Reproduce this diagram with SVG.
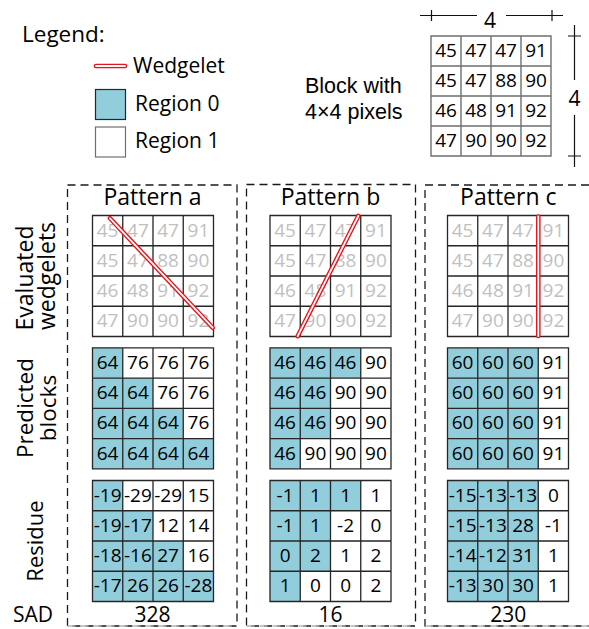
<svg xmlns="http://www.w3.org/2000/svg" xmlns:xlink="http://www.w3.org/1999/xlink" width="589" height="629" viewBox="0 0 589 629">
  <style>
    text { font-family: "Open Sans", "Liberation Sans", sans-serif; fill: #000; }
    .num { font-size: 19px; text-anchor: middle; }
    .dim { font-size: 21px; text-anchor: middle; }
    .ghost text { fill: #BFBFBF; }
    .title { font-size: 23px; text-anchor: middle; }
    .lab { font-size: 21px; }
    .lab-tight { font-family: "Liberation Sans", sans-serif; font-size: 21.5px; }
    .side { font-size: 23px; text-anchor: middle; }
    .grid { fill: none; stroke: #262626; stroke-width: 1.3; }
    .grid-soft { fill: none; stroke: #6f6f6f; stroke-width: 1.4; }
    .r0 { fill: #92CDDC; }
    .frame { fill: none; stroke: #1a1a1a; stroke-width: 1.3; stroke-dasharray: 8 5; }
    .frame-bottom { fill: none; stroke: #b5b5b5; stroke-width: 1.3; stroke-dasharray: 8 5; }
    .wedge-out { stroke: #E8141B; stroke-width: 4.6; stroke-linecap: round; fill: none; }
    .wedge-in { stroke: #fff; stroke-width: 1.8; stroke-linecap: round; fill: none; }
    .dimline { stroke: #111; stroke-width: 1.2; fill: none; }
  </style>
  <defs>
    <!-- 4x4 grid, 30.25 px cells -->
    <path id="grid" d="M0,0H121V121H0Z M30.25,0V121 M60.5,0V121 M90.75,0V121 M0,30.25H121 M0,60.5H121 M0,90.75H121"/>
    <!-- region-0 outlines per wedgelet pattern -->
    <polygon id="reg-a" points="0,0 30.25,0 30.25,30.25 60.5,30.25 60.5,60.5 90.75,60.5 90.75,90.75 121,90.75 121,121 0,121"/>
    <polygon id="reg-b" points="0,0 90.75,0 90.75,30.25 60.5,30.25 60.5,90.75 30.25,90.75 30.25,121 0,121"/>
    <rect id="reg-c" x="0" y="0" width="90.75" height="121"/>
  </defs>

  <rect width="589" height="629" fill="#fff"/>

  <!-- Legend -->
  <g id="legend">
    <text x="22" y="42.3" style="font-size:22.5px">Legend:</text>
    <line class="wedge-out" x1="96" y1="66" x2="125" y2="66"/>
    <line class="wedge-in" x1="96" y1="66" x2="125" y2="66"/>
    <text class="lab" x="133" y="72.7">Wedgelet</text>
    <rect class="r0" x="95.5" y="89.5" width="30" height="30" stroke="#262626" stroke-width="1.2"/>
    <text class="lab" x="135" y="110.5">Region 0</text>
    <rect x="95.5" y="127" width="30" height="30" fill="#fff" stroke="#707070" stroke-width="1.2"/>
    <text class="lab" x="135" y="148">Region 1</text>
  </g>

  <!-- Source block with dimensions -->
  <g id="block">
    <text class="lab-tight" x="305" y="93">Block with</text>
    <text class="lab-tight" x="305" y="118.5">4×4 pixels</text>
    <path class="grid-soft" d="M431,36H551V156H431Z M461,36V156 M491,36V156 M521,36V156 M431,66H551 M431,96H551 M431,126H551"/>
    <g class="num">
      <text x="446" y="56.5">45</text><text x="476" y="56.5">47</text><text x="506" y="56.5">47</text><text x="536" y="56.5">91</text>
      <text x="446" y="86.5">45</text><text x="476" y="86.5">47</text><text x="506" y="86.5">88</text><text x="536" y="86.5">90</text>
      <text x="446" y="116.5">46</text><text x="476" y="116.5">48</text><text x="506" y="116.5">91</text><text x="536" y="116.5">92</text>
      <text x="446" y="146.5">47</text><text x="476" y="146.5">90</text><text x="506" y="146.5">90</text><text x="536" y="146.5">92</text>
    </g>
  </g>

  <g id="dimensions">
    <path class="dimline" d="M420,15.5H477 M506,15.5H563 M431.5,10V21 M552,10V21"/>
    <text class="dim" x="490" y="28.3">4</text>
    <path class="dimline" d="M574.5,25V80 M574.5,115V167 M568,36H581 M568,156H581"/>
    <text class="dim" x="574.5" y="105.5">4</text>
  </g>

  <!-- Row captions -->
  <g id="captions">
    <text class="side" transform="translate(32.5,278) rotate(-90)">Evaluated</text>
    <text class="side" transform="translate(55,276) rotate(-90)">wedgelets</text>
    <text class="side" style="font-size:22.5px" transform="translate(33,408) rotate(-90)">Predicted</text>
    <text class="side" style="font-size:22.5px" transform="translate(56,408) rotate(-90)">blocks</text>
    <text class="side" style="font-size:22px" transform="translate(43,541) rotate(-90)">Residue</text>
    <text x="13" y="622" style="font-size:21px">SAD</text>
  </g>

  <!-- Pattern a -->
  <g id="pattern-a">
    <rect class="frame" x="67.5" y="185" width="169.5" height="441"/>
    <line class="frame-bottom" x1="67.5" y1="626" x2="237" y2="626"/>
    <text class="title" x="152.5" y="205">Pattern a</text>
    <g id="eval-a" transform="translate(92.5,215.5)">
      <use href="#grid" class="grid"/>
      <g class="num ghost">
        <text x="15.1" y="21">45</text><text x="45.4" y="21">47</text><text x="75.6" y="21">47</text><text x="105.9" y="21">91</text>
        <text x="15.1" y="51.3">45</text><text x="45.4" y="51.3">47</text><text x="75.6" y="51.3">88</text><text x="105.9" y="51.3">90</text>
        <text x="15.1" y="81.5">46</text><text x="45.4" y="81.5">48</text><text x="75.6" y="81.5">91</text><text x="105.9" y="81.5">92</text>
        <text x="15.1" y="111.8">47</text><text x="45.4" y="111.8">90</text><text x="75.6" y="111.8">90</text><text x="105.9" y="111.8">92</text>
      </g>
      <line class="wedge-out" x1="17.5" y1="2.8" x2="120.2" y2="112.2"/>
      <line class="wedge-in" x1="17.5" y1="2.8" x2="120.2" y2="112.2"/>
    </g>
    <g id="pred-a" transform="translate(92.5,347.8)">
      <use href="#reg-a" class="r0"/>
      <use href="#grid" class="grid"/>
      <g class="num">
        <text x="15.1" y="21">64</text><text x="45.4" y="21">76</text><text x="75.6" y="21">76</text><text x="105.9" y="21">76</text>
        <text x="15.1" y="51.3">64</text><text x="45.4" y="51.3">64</text><text x="75.6" y="51.3">76</text><text x="105.9" y="51.3">76</text>
        <text x="15.1" y="81.5">64</text><text x="45.4" y="81.5">64</text><text x="75.6" y="81.5">64</text><text x="105.9" y="81.5">76</text>
        <text x="15.1" y="111.8">64</text><text x="45.4" y="111.8">64</text><text x="75.6" y="111.8">64</text><text x="105.9" y="111.8">64</text>
      </g>
    </g>
    <g id="res-a" transform="translate(92.5,480.5)">
      <use href="#reg-a" class="r0"/>
      <use href="#grid" class="grid"/>
      <g class="num">
        <text x="15.1" y="21">-19</text><text x="45.4" y="21">-29</text><text x="75.6" y="21">-29</text><text x="105.9" y="21">15</text>
        <text x="15.1" y="51.3">-19</text><text x="45.4" y="51.3">-17</text><text x="75.6" y="51.3">12</text><text x="105.9" y="51.3">14</text>
        <text x="15.1" y="81.5">-18</text><text x="45.4" y="81.5">-16</text><text x="75.6" y="81.5">27</text><text x="105.9" y="81.5">16</text>
        <text x="15.1" y="111.8">-17</text><text x="45.4" y="111.8">26</text><text x="75.6" y="111.8">26</text><text x="105.9" y="111.8">-28</text>
      </g>
    </g>
    <text class="num" style="font-size:21px" x="152.5" y="622">328</text>
  </g>

  <!-- Pattern b -->
  <g id="pattern-b">
    <rect class="frame" x="246.5" y="184.5" width="169" height="441.5"/>
    <line class="frame-bottom" x1="246.5" y1="626" x2="415.5" y2="626"/>
    <text class="title" x="330.5" y="205">Pattern b</text>
    <g id="eval-b" transform="translate(270,215.5)">
      <use href="#grid" class="grid"/>
      <g class="num ghost">
        <text x="15.1" y="21">45</text><text x="45.4" y="21">47</text><text x="75.6" y="21">47</text><text x="105.9" y="21">91</text>
        <text x="15.1" y="51.3">45</text><text x="45.4" y="51.3">47</text><text x="75.6" y="51.3">88</text><text x="105.9" y="51.3">90</text>
        <text x="15.1" y="81.5">46</text><text x="45.4" y="81.5">48</text><text x="75.6" y="81.5">91</text><text x="105.9" y="81.5">92</text>
        <text x="15.1" y="111.8">47</text><text x="45.4" y="111.8">90</text><text x="75.6" y="111.8">90</text><text x="105.9" y="111.8">92</text>
      </g>
      <line class="wedge-out" x1="88.3" y1="0.5" x2="27.7" y2="120.7"/>
      <line class="wedge-in" x1="88.3" y1="0.5" x2="27.7" y2="120.7"/>
    </g>
    <g id="pred-b" transform="translate(270,347.8)">
      <use href="#reg-b" class="r0"/>
      <use href="#grid" class="grid"/>
      <g class="num">
        <text x="15.1" y="21">46</text><text x="45.4" y="21">46</text><text x="75.6" y="21">46</text><text x="105.9" y="21">90</text>
        <text x="15.1" y="51.3">46</text><text x="45.4" y="51.3">46</text><text x="75.6" y="51.3">90</text><text x="105.9" y="51.3">90</text>
        <text x="15.1" y="81.5">46</text><text x="45.4" y="81.5">46</text><text x="75.6" y="81.5">90</text><text x="105.9" y="81.5">90</text>
        <text x="15.1" y="111.8">46</text><text x="45.4" y="111.8">90</text><text x="75.6" y="111.8">90</text><text x="105.9" y="111.8">90</text>
      </g>
    </g>
    <g id="res-b" transform="translate(270,480.5)">
      <use href="#reg-b" class="r0"/>
      <use href="#grid" class="grid"/>
      <g class="num">
        <text x="15.1" y="21">-1</text><text x="45.4" y="21">1</text><text x="75.6" y="21">1</text><text x="105.9" y="21">1</text>
        <text x="15.1" y="51.3">-1</text><text x="45.4" y="51.3">1</text><text x="75.6" y="51.3">-2</text><text x="105.9" y="51.3">0</text>
        <text x="15.1" y="81.5">0</text><text x="45.4" y="81.5">2</text><text x="75.6" y="81.5">1</text><text x="105.9" y="81.5">2</text>
        <text x="15.1" y="111.8">1</text><text x="45.4" y="111.8">0</text><text x="75.6" y="111.8">0</text><text x="105.9" y="111.8">2</text>
      </g>
    </g>
    <text class="num" style="font-size:21px" x="330.5" y="622">16</text>
  </g>

  <!-- Pattern c -->
  <g id="pattern-c">
    <rect class="frame" x="425" y="185" width="170" height="441"/>
    <line class="frame-bottom" x1="425" y1="626" x2="595" y2="626"/>
    <text class="title" x="508.3" y="205">Pattern c</text>
    <g id="eval-c" transform="translate(447.5,215.5)">
      <use href="#grid" class="grid"/>
      <g class="num ghost">
        <text x="15.1" y="21">45</text><text x="45.4" y="21">47</text><text x="75.6" y="21">47</text><text x="105.9" y="21">91</text>
        <text x="15.1" y="51.3">45</text><text x="45.4" y="51.3">47</text><text x="75.6" y="51.3">88</text><text x="105.9" y="51.3">90</text>
        <text x="15.1" y="81.5">46</text><text x="45.4" y="81.5">48</text><text x="75.6" y="81.5">91</text><text x="105.9" y="81.5">92</text>
        <text x="15.1" y="111.8">47</text><text x="45.4" y="111.8">90</text><text x="75.6" y="111.8">90</text><text x="105.9" y="111.8">92</text>
      </g>
      <line class="wedge-out" x1="90.8" y1="1" x2="90.8" y2="120.5"/>
      <line class="wedge-in" x1="90.8" y1="1" x2="90.8" y2="120.5"/>
    </g>
    <g id="pred-c" transform="translate(447.5,347.8)">
      <use href="#reg-c" class="r0"/>
      <use href="#grid" class="grid"/>
      <g class="num">
        <text x="15.1" y="21">60</text><text x="45.4" y="21">60</text><text x="75.6" y="21">60</text><text x="105.9" y="21">91</text>
        <text x="15.1" y="51.3">60</text><text x="45.4" y="51.3">60</text><text x="75.6" y="51.3">60</text><text x="105.9" y="51.3">91</text>
        <text x="15.1" y="81.5">60</text><text x="45.4" y="81.5">60</text><text x="75.6" y="81.5">60</text><text x="105.9" y="81.5">91</text>
        <text x="15.1" y="111.8">60</text><text x="45.4" y="111.8">60</text><text x="75.6" y="111.8">60</text><text x="105.9" y="111.8">91</text>
      </g>
    </g>
    <g id="res-c" transform="translate(447.5,480.5)">
      <use href="#reg-c" class="r0"/>
      <use href="#grid" class="grid"/>
      <g class="num">
        <text x="15.1" y="21">-15</text><text x="45.4" y="21">-13</text><text x="75.6" y="21">-13</text><text x="105.9" y="21">0</text>
        <text x="15.1" y="51.3">-15</text><text x="45.4" y="51.3">-13</text><text x="75.6" y="51.3">28</text><text x="105.9" y="51.3">-1</text>
        <text x="15.1" y="81.5">-14</text><text x="45.4" y="81.5">-12</text><text x="75.6" y="81.5">31</text><text x="105.9" y="81.5">1</text>
        <text x="15.1" y="111.8">-13</text><text x="45.4" y="111.8">30</text><text x="75.6" y="111.8">30</text><text x="105.9" y="111.8">1</text>
      </g>
    </g>
    <text class="num" style="font-size:21px" x="508.3" y="622">230</text>
  </g>
</svg>
